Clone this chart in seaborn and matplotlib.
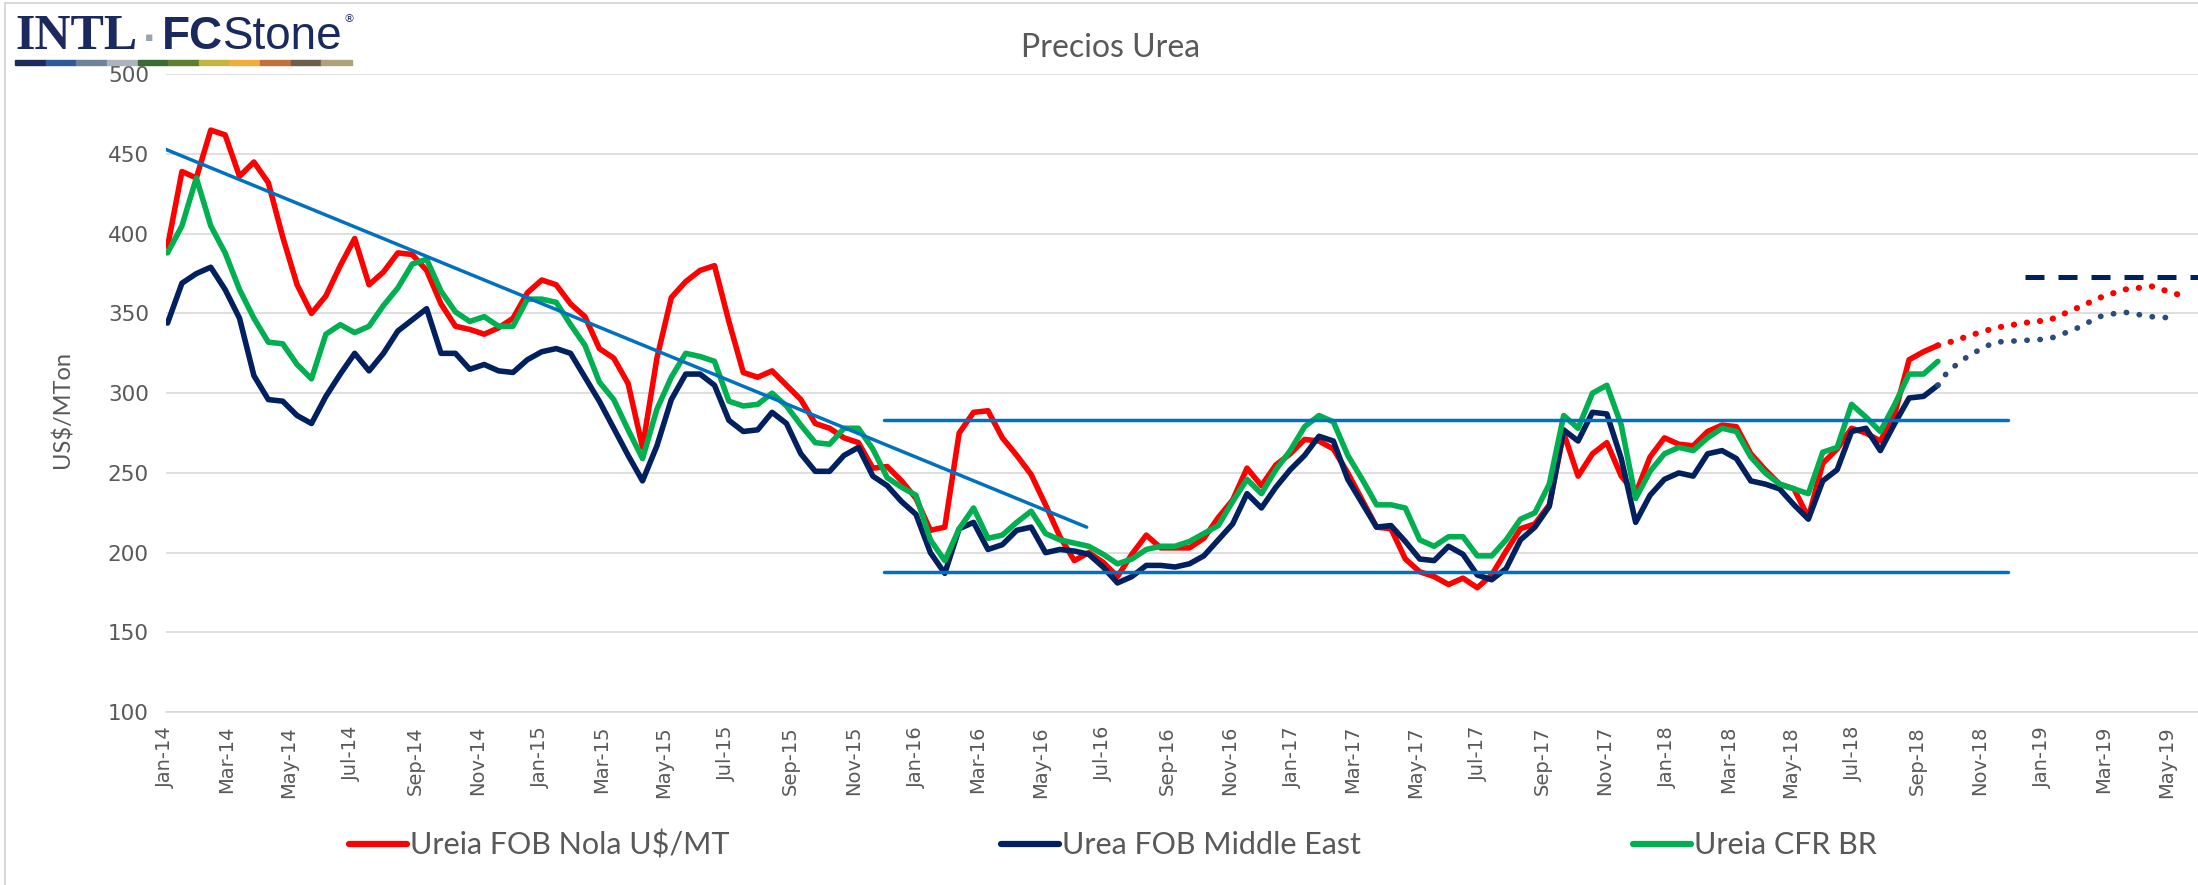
import numpy as np
import pandas as pd
import matplotlib
matplotlib.use('Agg')
import matplotlib.pyplot as plt
import matplotlib.dates as mdates
from matplotlib.lines import Line2D
from matplotlib.patches import Rectangle
import seaborn as sns

sns.set_style('white')
plt.rcParams['font.family'] = ['DejaVu Sans']

# biweekly prices, Jan-2014 to Sep-2018 (US$/MTon)
dates = pd.date_range('2014-01-03', periods=124, freq='14D')

nola = [392, 439, 435, 465, 462, 436, 445, 432, 398, 368, 350, 361, 380, 397, 368, 376,
        388, 387, 377, 356, 342, 340, 337, 341, 347, 363, 371, 368, 356, 348, 328, 322,
        306, 266, 322, 360, 370, 377, 380, 345, 313, 310, 314, 305, 296, 281, 278, 272,
        269, 253, 254, 245, 234, 214, 216, 275, 288, 289, 272, 261, 249, 230, 210, 195,
        200, 194, 185, 199, 211, 203, 203, 203, 209, 222, 233, 253, 242, 255, 262, 271,
        270, 265, 250, 233, 216, 215, 196, 188, 185, 180, 184, 178, 186, 201, 215, 218,
        230, 275, 248, 262, 269, 248, 237, 260, 272, 268, 267, 276, 280, 279, 262, 252,
        243, 240, 222, 256, 265, 278, 275, 270, 287, 321, 326, 330]

middle_east = [344, 369, 375, 379, 365, 347, 311, 296, 295, 286, 281, 298, 312, 325, 314, 325,
               339, 346, 353, 325, 325, 315, 318, 314, 313, 321, 326, 328, 325, 310, 295, 278,
               261, 245, 267, 296, 312, 312, 305, 283, 276, 277, 288, 281, 262, 251, 251, 261,
               266, 248, 242, 232, 224, 200, 187, 215, 219, 202, 205, 214, 216, 200, 202, 201,
               199, 191, 181, 185, 192, 192, 191, 193, 198, 208, 218, 237, 228, 241, 252, 261,
               273, 270, 246, 231, 216, 217, 207, 196, 195, 204, 199, 186, 183, 190, 208, 216,
               229, 277, 270, 288, 287, 259, 219, 236, 246, 250, 248, 262, 264, 259, 245, 243,
               240, 230, 221, 245, 252, 276, 278, 264, 281, 297, 298, 305]

cfr_br = [388, 405, 435, 405, 388, 365, 347, 332, 331, 318, 309, 337, 343, 338, 342, 355,
          366, 381, 384, 364, 351, 345, 348, 342, 342, 359, 359, 357, 343, 330, 307, 296,
          277, 259, 290, 310, 325, 323, 320, 295, 292, 293, 300, 292, 280, 269, 268, 278,
          278, 265, 247, 241, 236, 208, 195, 215, 228, 209, 211, 219, 226, 212, 208, 206,
          204, 199, 193, 196, 202, 204, 204, 207, 212, 217, 232, 246, 237, 252, 264, 279,
          286, 282, 261, 246, 230, 230, 228, 208, 204, 210, 210, 198, 198, 208, 221, 225,
          243, 286, 278, 300, 305, 280, 234, 251, 262, 266, 264, 272, 278, 276, 260, 250,
          243, 240, 237, 263, 266, 293, 285, 276, 293, 312, 312, 320]

# forecasts
nola_fc_dates = ['2018-09-21', '2018-10-08', '2018-10-21', '2018-11-16', '2018-12-13', '2019-01-08',
                 '2019-02-02', '2019-02-26', '2019-03-21', '2019-04-17', '2019-05-12']
nola_fc = [330, 333, 336, 341, 344, 346, 353, 360, 365, 367, 362]

me_fc_dates = ['2018-09-21', '2018-10-01', '2018-10-22', '2018-11-15', '2018-12-11', '2019-01-07',
               '2019-02-01', '2019-02-25', '2019-03-20', '2019-04-16', '2019-05-12']
me_fc = [305, 314, 324, 332, 333, 334, 340, 348, 351, 348, 347]

# trend / channel lines
trend_dates = ['2014-01-01', '2016-06-15']
trend_vals = [453, 216]
band_dates = ['2015-12-01', '2018-11-28']
band_top = 283
band_bottom = 188
target_dates = ['2018-12-15', '2019-06-10']
target = 373

RED = '#FF0000'
NAVY = '#002060'
GREEN = '#00B050'
BLUE = '#0070C0'
GREY = '#595959'

W, H = 2198, 885
fig = plt.figure(figsize=(W / 100, H / 100), dpi=100)
ax = fig.add_axes([165.5 / W, 1 - 712.1 / H, 1 - 165.5 / W, (712.1 - 74.3) / H])

sns.lineplot(x=dates, y=nola, color=RED, linewidth=4.0, ax=ax)
sns.lineplot(x=dates, y=middle_east, color=NAVY, linewidth=4.0, ax=ax)
sns.lineplot(x=dates, y=cfr_br, color=GREEN, linewidth=4.0, ax=ax)

sns.lineplot(x=pd.to_datetime(nola_fc_dates), y=nola_fc, color=RED, linewidth=4.4,
             linestyle=(0, (0.05, 2.1)), dash_capstyle='round', ax=ax)
sns.lineplot(x=pd.to_datetime(me_fc_dates), y=me_fc, color='#2B4A7E', linewidth=4.1,
             linestyle=(0, (0.05, 2.25)), dash_capstyle='round', ax=ax)

ax.plot(pd.to_datetime(trend_dates), trend_vals, color=BLUE, linewidth=2.5, zorder=5)
ax.plot(pd.to_datetime(band_dates), [band_top, band_top], color=BLUE, linewidth=2.5, zorder=5)
ax.plot(pd.to_datetime(band_dates), [band_bottom, band_bottom], color=BLUE, linewidth=2.5, zorder=5)
ax.plot(pd.to_datetime(target_dates), [target, target], color=NAVY, linewidth=3.6,
        linestyle=(0, (3.8, 2.8)), zorder=5)

ax.set_ylim(100, 500)
ax.set_yticks(np.arange(100, 501, 50))
ax.set_xlim(pd.Timestamp('2014-01-01'), pd.Timestamp('2019-06-01'))
ax.xaxis.set_major_locator(mdates.MonthLocator(bymonth=[1, 3, 5, 7, 9, 11]))
ax.xaxis.set_major_formatter(mdates.DateFormatter('%b-%y'))
ax.grid(axis='y', color='#D9D9D9', linewidth=1.2)
ax.set_axisbelow(True)
for s in ['top', 'right', 'left']:
    ax.spines[s].set_visible(False)
ax.spines['bottom'].set_color('#D9D9D9')
ax.spines['bottom'].set_linewidth(1.2)
ax.tick_params(axis='x', rotation=90, labelsize=14, labelcolor=GREY, color='#D9D9D9',
               length=6, width=1.2, direction='out', pad=4)
ax.tick_params(axis='y', labelsize=15.5, labelcolor=GREY, length=0, pad=12)
ax.set_xlabel('')
ax.set_ylabel('')

fig.text(63 / W, 1 - 410 / H, 'US$/MTon', rotation=90, ha='center', va='center',
         fontsize=17, color=GREY, family='Lato')
fig.text(1111 / W, 1 - 48 / H, 'Precios Urea', ha='center', va='center',
         fontsize=23, color=GREY, family='Lato')

handles = [Line2D([], [], color=RED, linewidth=4.5),
           Line2D([], [], color=NAVY, linewidth=4.5),
           Line2D([], [], color=GREEN, linewidth=4.5)]
labels = ['Ureia FOB Nola U$/MT', 'Urea FOB Middle East', 'Ureia CFR BR']
leg = fig.legend(handles, labels, loc='center', bbox_to_anchor=(1113 / W, 1 - 845 / H), ncol=3,
                 frameon=False, handlelength=1.9, handletextpad=0.1, columnspacing=8.9,
                 prop={'family': 'Lato', 'size': 22})
for t in leg.get_texts():
    t.set_color(GREY)

# logo, pieces chained left to right
LOGO = '#1B2A5E'
renderer = fig.canvas.get_renderer()
base = 1 - 49 / H
t = fig.text(15 / W, base, 'INTL', fontsize=36, fontweight='bold', family='Liberation Serif',
             color=LOGO, va='baseline')
x1 = t.get_window_extent(renderer).x1
t = fig.text((x1 + 8) / W, 1 - 41 / H, '\u25aa', fontsize=9, color='#9AA3AE', va='baseline')
x1 = t.get_window_extent(renderer).x1
t = fig.text((x1 + 8) / W, base, 'FC', fontsize=33, fontweight='bold', family='Liberation Sans',
             color=LOGO, va='baseline')
x1 = t.get_window_extent(renderer).x1
t = fig.text(x1 / W, base, 'Stone', fontsize=33, family='Liberation Sans',
             color=LOGO, va='baseline')
x1 = t.get_window_extent(renderer).x1
fig.text((x1 + 1) / W, 1 - 22 / H, '\u00ae', fontsize=8, color=LOGO, va='baseline')
bar_colors = ['#1F2A5C', '#2E5A9B', '#6B8299', '#A9B4BE', '#3B6B35', '#5F7E2E',
              '#C5B43F', '#EFAE3A', '#C0703A', '#6D5E4A', '#ADA27A']
seg = (352 - 15) / len(bar_colors)
for i, c in enumerate(bar_colors):
    fig.patches.append(Rectangle(((15 + i * seg) / W, 1 - 65 / H), seg / W, 5 / H,
                                 transform=fig.transFigure, color=c, zorder=3))

# chart frame
fig.add_artist(Line2D([5 / W, 5 / W], [0, 1 - 3 / H], color='#D9D9D9', linewidth=1.5))
fig.add_artist(Line2D([5 / W, 1], [1 - 3 / H, 1 - 3 / H], color='#D9D9D9', linewidth=1.5))

fig.savefig('out.png', dpi=100)
